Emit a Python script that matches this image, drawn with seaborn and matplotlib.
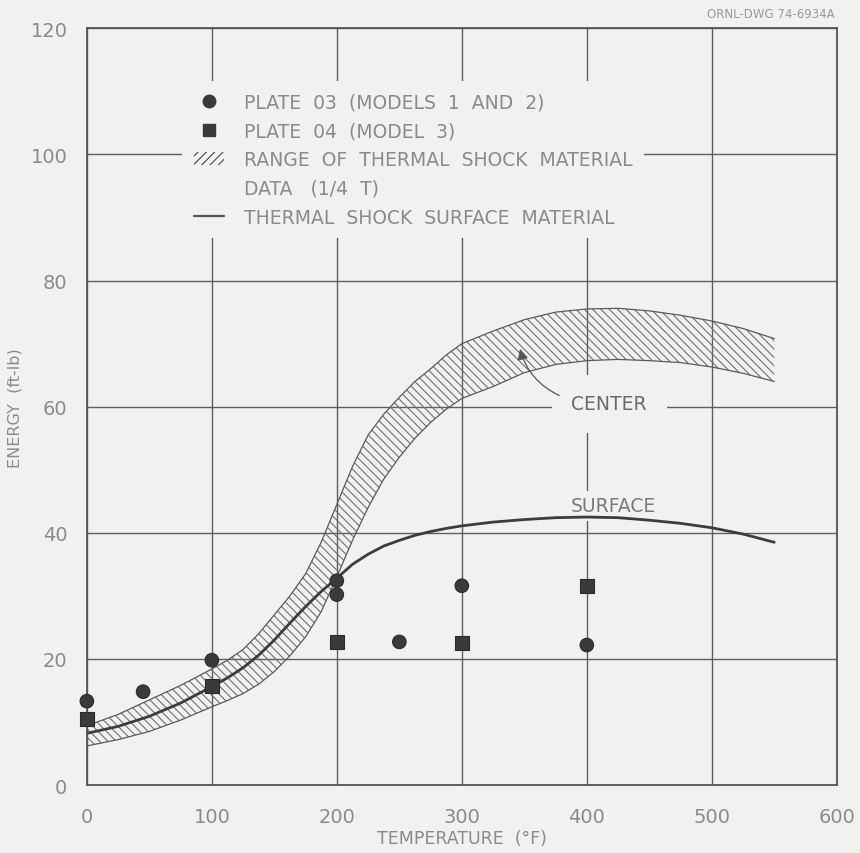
import matplotlib
matplotlib.use("Agg")
import matplotlib.pyplot as plt
from matplotlib.lines import Line2D
from matplotlib.patches import Patch
import seaborn as sns
import pandas as pd

# Charpy impact data, plates 03 and 04
plate03_temp = [0, 45, 100, 200, 200, 250, 300, 400]
plate03_energy = [13.3, 14.8, 19.8, 32.4, 30.2, 22.7, 31.6, 22.2]
plate04_temp = [0, 100, 200, 300, 400]
plate04_energy = [10.5, 15.7, 22.7, 22.5, 31.6]

# Range of thermal shock material data (1/4 T), center
band_temp = [0, 25, 50, 75, 100, 112.5, 125, 137.5, 150, 162.5, 175, 187.5, 200,
             212.5, 225, 237.5, 250, 262.5, 275, 287.5, 300, 325, 350, 375, 400,
             425, 450, 475, 500, 525, 550]
band_upper = [9.4, 11.2, 13.5, 15.8, 18.4, 19.8, 21.5, 24.0, 27.0, 30.0, 33.5, 38.5, 44.5,
              50.5, 55.5, 58.8, 61.5, 64.0, 66.0, 68.2, 70.0, 72.0, 73.8, 75.0, 75.5,
              75.6, 75.2, 74.5, 73.6, 72.4, 70.8]
band_lower = [6.2, 7.2, 8.5, 10.3, 12.4, 13.4, 14.5, 16.0, 18.0, 20.5, 23.5, 27.5, 33.0,
              38.8, 44.0, 48.5, 52.0, 55.0, 57.5, 59.6, 61.3, 63.2, 65.4, 66.7, 67.3,
              67.5, 67.3, 67.0, 66.3, 65.3, 64.0]

# Thermal shock surface material curve
surface_temp = band_temp
surface_energy = [8.2, 9.3, 10.9, 13.0, 15.6, 17.0, 18.6, 20.6, 23.0, 25.7, 28.3, 30.7, 32.8,
                  35.0, 36.6, 37.9, 38.8, 39.6, 40.2, 40.7, 41.1, 41.7, 42.1, 42.4, 42.5,
                  42.4, 42.0, 41.5, 40.8, 39.8, 38.5]

x_ticks = [0, 100, 200, 300, 400, 500, 600]
y_ticks = [0, 20, 40, 60, 80, 100, 120]

BG = "#f1f1ef"
TXT = "#8a8a8a"

sns.set_style("white")
plt.rcParams["font.family"] = ["DejaVu Sans"]
plt.rcParams["hatch.linewidth"] = 0.8

fig = plt.figure(figsize=(8.6, 8.54), dpi=100, facecolor=BG)
ax = fig.add_axes([0.101, 0.0796, 0.872, 0.886], facecolor=BG)

points = pd.DataFrame({
    "temp": plate03_temp + plate04_temp,
    "energy": plate03_energy + plate04_energy,
    "plate": ["03"] * len(plate03_temp) + ["04"] * len(plate04_temp),
})
surface = pd.DataFrame({"temp": surface_temp, "energy": surface_energy})
band = pd.DataFrame({"temp": band_temp, "upper": band_upper, "lower": band_lower})

# hatched scatter band
ax.fill_between(band["temp"], band["lower"], band["upper"], facecolor="none",
                edgecolor="#707070", hatch="\\\\\\\\", linewidth=0, zorder=2)
sns.lineplot(data=band, x="temp", y="upper", ax=ax, color="#5a5a5a", lw=0.9,
             sort=False, estimator=None, zorder=2.2)
sns.lineplot(data=band, x="temp", y="lower", ax=ax, color="#5a5a5a", lw=0.9,
             sort=False, estimator=None, zorder=2.2)

# surface curve
sns.lineplot(data=surface, x="temp", y="energy", ax=ax, color="#3c3c3c", lw=2.0,
             sort=False, estimator=None, zorder=3)

# data points
sns.scatterplot(data=points, x="temp", y="energy", style="plate",
                markers={"03": "o", "04": "s"}, s=95, color="#3a3a3a",
                edgecolor="#2a2a2a", linewidth=0.8, ax=ax, legend=False,
                zorder=4, clip_on=False)

ax.set_xlim(0, 600)
ax.set_ylim(0, 120)
ax.set_xticks(x_ticks)
ax.set_yticks(y_ticks)
ax.grid(True, color="#5e5e5e", lw=1.0)
ax.set_axisbelow(True)
for sp in ax.spines.values():
    sp.set_visible(True)
    sp.set_color("#555555")
    sp.set_linewidth(1.3)
ax.tick_params(axis="both", length=0, labelsize=14, labelcolor=TXT)
ax.tick_params(axis="x", pad=16)
ax.tick_params(axis="y", pad=14)
ax.set_xlabel("TEMPERATURE  (°F)", fontsize=12.5, color=TXT, labelpad=2)
ax.set_ylabel("ENERGY  (ft-lb)", fontsize=11.5, color=TXT, labelpad=6)

# curve labels
ax.text(418, 60.5, "CENTER", fontsize=13.5, color="#6a6a6a", ha="center", va="center",
        zorder=2.5, bbox=dict(facecolor=BG, edgecolor="none", pad=14))
ax.text(421, 44.3, "SURFACE", fontsize=13.5, color="#7a7a7a", ha="center", va="center",
        zorder=2.5, bbox=dict(facecolor=BG, edgecolor="none", pad=4))
ax.annotate("", xy=(346, 69.6), xytext=(380, 61.6),
            arrowprops=dict(arrowstyle="-|>", connectionstyle="arc3,rad=-0.25",
                            color="#555555", lw=0.9, mutation_scale=16),
            zorder=5)

# legend
handles = [
    Line2D([], [], marker="o", ls="none", color="#3a3a3a", markersize=9),
    Line2D([], [], marker="s", ls="none", color="#3a3a3a", markersize=8.5),
    Patch(facecolor="none", edgecolor="#444444", hatch="////", linewidth=0),
    Line2D([], [], ls="none"),
    Line2D([], [], color="#555555", lw=1.6),
]
labels = [
    "PLATE  03  (MODELS  1  AND  2)",
    "PLATE  04  (MODEL  3)",
    "RANGE  OF  THERMAL  SHOCK  MATERIAL",
    "DATA   (1/4  T)",
    "THERMAL  SHOCK  SURFACE  MATERIAL",
]
leg = ax.legend(handles, labels, loc="upper left", bbox_to_anchor=(0.115, 0.943),
                frameon=True, fontsize=13.5, labelcolor=TXT, handlelength=1.6,
                handletextpad=1.1, labelspacing=0.53, borderpad=0.6,
                facecolor=BG, edgecolor="none", framealpha=1, fancybox=False)
leg.set_zorder(6)

fig.text(0.971, 0.983, "ORNL-DWG 74-6934A", fontsize=8.5, color="#9a9a9a",
         ha="right", va="center")

fig.savefig("out.png", dpi=100, facecolor=BG)
